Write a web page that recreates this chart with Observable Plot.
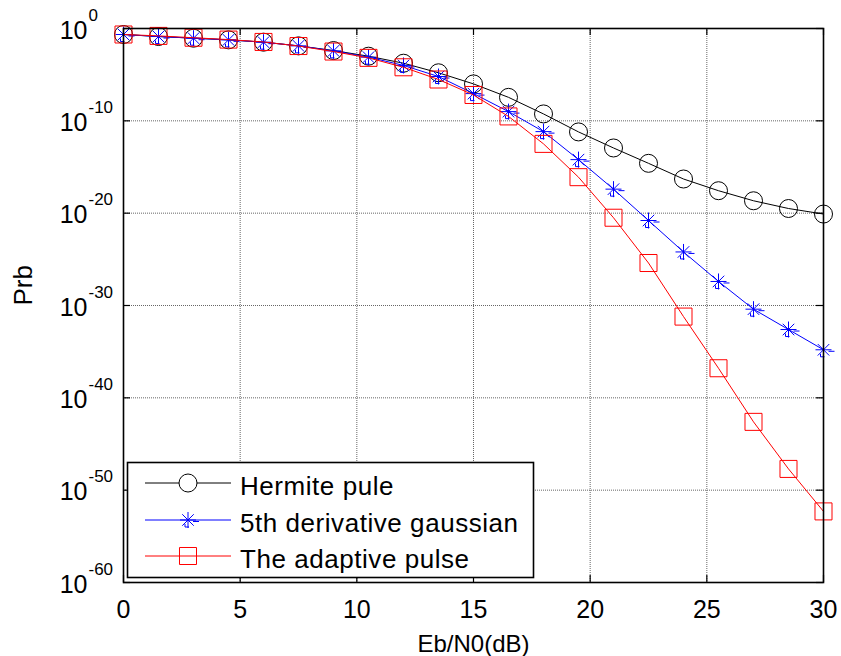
<!DOCTYPE html>
<html><head><meta charset="utf-8">
<script src="https://cdn.jsdelivr.net/npm/d3@7"></script>
<script src="https://cdn.jsdelivr.net/npm/@observablehq/plot@0.6"></script>
<style>html,body{margin:0;padding:0;background:#fff}</style>
</head><body><div id="chart"></div>
<script>
// ---- data ----
const ebn0 = [0, 1.5, 3, 4.5, 6, 7.5, 9, 10.5, 12, 13.5, 15, 16.5, 18, 19.5, 21, 22.5, 24, 25.5, 27, 28.5, 30];
const hermite = [2.24e-1, 1.35e-1, 8.9e-2, 5.9e-2, 3.3e-2, 1.32e-2, 4.1e-3, 1.0e-3, 1.74e-4, 1.6e-5, 1.0e-6, 3.5e-8, 5.6e-10, 6.3e-12, 1.15e-13, 2.5e-15, 5.0e-17, 2.7e-18, 2.2e-19, 3.2e-20, 8.0e-21];
const gauss5 = [2.24e-1, 1.35e-1, 8.9e-2, 5.9e-2, 3.3e-2, 1.32e-2, 3.8e-3, 7.9e-4, 1.0e-4, 6.3e-6, 8.9e-8, 1.0e-9, 6.8e-12, 6.3e-15, 4.0e-18, 1.6e-21, 6.3e-25, 4.0e-28, 4.0e-31, 2.5e-33, 1.6e-35];
const adaptive = [2.24e-1, 1.58e-1, 1.0e-1, 6.3e-2, 3.5e-2, 1.26e-2, 3.2e-3, 6.6e-4, 6.3e-5, 3.0e-6, 6.3e-8, 3.0e-10, 3.2e-13, 7.9e-17, 3.2e-21, 4.0e-26, 6.3e-32, 1.6e-37, 2.5e-43, 2.0e-48, 5.0e-53];
const seriesNames = ["Hermite pule", "5th derivative gaussian", "The adaptive pulse"];
const seriesColors = ["#000000", "#0000ff", "#ff0000"];
const xTicks = [0, 5, 10, 15, 20, 25, 30];
const yTicks = [1e0, 1e-10, 1e-20, 1e-30, 1e-40, 1e-50, 1e-60];
const yTickExp = ["0", "-10", "-20", "-30", "-40", "-50", "-60"];
const xLabel = "Eb/N0(dB)";
const yLabel = "Prb";

// ---- build tables ----
const toRows = (vals) => ebn0.map((x, i) => ({x, y: vals[i]}));
const hRows = toRows(hermite), gRows = toRows(gauss5), aRows = toRows(adaptive);

// MATLAB-like '*' marker (plus + cross) with export artefact dashes
const matStar = {
  draw(ctx, size) {
    const r = 8, d = r * 0.72;
    ctx.moveTo(-r, 0); ctx.lineTo(r, 0);
    ctx.moveTo(0, -r); ctx.lineTo(0, r);
    ctx.moveTo(-d, -d); ctx.lineTo(d, d);
    ctx.moveTo(-d, d); ctx.lineTo(d, -d);
    ctx.moveTo(5, 1.5); ctx.lineTo(11, 1.5);
    ctx.moveTo(-3, 7); ctx.lineTo(1, 7);
    ctx.moveTo(-3, 4); ctx.lineTo(-3, 7);
  }
};
const symbols = ["circle", matStar, "square"];
const radii = [9, 8, 9.6];

const W = 841, H = 656, mL = 123, mR = 18, mT = 28, mB = 74;
const pw = W - mL - mR, ph = H - mT - mB;
const font = "'Liberation Sans', Arial, sans-serif";

const seriesMarks = [hRows, gRows, aRows].flatMap((rows, k) => [
  Plot.line(rows, {x: "x", y: "y", stroke: seriesColors[k], strokeWidth: 1}),
  Plot.dot(rows, {x: "x", y: "y", symbol: () => symbols[k], r: radii[k], stroke: seriesColors[k], fill: "none", strokeWidth: 1})
]);

const chart = Plot.plot({
  width: W, height: H,
  marginLeft: mL, marginRight: mR, marginTop: mT, marginBottom: mB,
  style: {fontFamily: font, background: "white", overflow: "visible"},
  x: {domain: [0, 30], axis: null},
  y: {type: "log", domain: [1e-60, 1], axis: null},
  marks: [
    Plot.gridX(xTicks.slice(1, -1), {stroke: "#666", strokeOpacity: 1, strokeWidth: 1, strokeDasharray: "1,1"}),
    Plot.gridY(yTicks.slice(1, -1), {stroke: "#666", strokeOpacity: 1, strokeWidth: 1, strokeDasharray: "1,1"}),
    ...seriesMarks,
    Plot.frame({stroke: "black", strokeWidth: 1.6}),
    // inward ticks on all four sides
    Plot.ruleX(xTicks, {x: d => d, insetTop: ph - 7, stroke: "black", strokeWidth: 1.2}),
    Plot.ruleX(xTicks, {x: d => d, insetBottom: ph - 7, stroke: "black", strokeWidth: 1.2}),
    Plot.ruleY(yTicks, {y: d => d, insetRight: pw - 7, stroke: "black", strokeWidth: 1.2}),
    Plot.ruleY(yTicks, {y: d => d, insetLeft: pw - 7, stroke: "black", strokeWidth: 1.2}),
    // tick labels
    Plot.text(xTicks, {x: d => d, frameAnchor: "bottom", dy: 35, lineAnchor: "bottom", text: d => String(d), fontSize: 25, fill: "black"}),
    Plot.text(yTicks, {y: d => d, frameAnchor: "left", dx: -36, dy: 10, textAnchor: "end", lineAnchor: "bottom", text: () => "10", fontSize: 25, fill: "black"}),
    Plot.text(yTicks, {y: d => d, frameAnchor: "left", dx: -35, dy: -8, textAnchor: "start", lineAnchor: "bottom", text: (d, i) => yTickExp[i], fontSize: 17, fill: "black"}),
    // axis labels
    Plot.text([xLabel], {frameAnchor: "bottom", dy: 69, lineAnchor: "bottom", text: d => d, fontSize: 24, fill: "black"}),
    Plot.text([yLabel], {frameAnchor: "left", dx: -100, rotate: -90, text: d => d, fontSize: 26, fill: "black"})
  ]
});

// ---- legend (drawn in pixels, inside the axes box) ----
const svg = d3.select(chart);
const lg = svg.append("g").attr("font-family", font).attr("text-anchor", "start");
lg.append("rect").attr("x", 127.5).attr("y", 462.5).attr("width", 406).attr("height", 115)
  .attr("fill", "white").attr("stroke", "black").attr("stroke-width", 1.6);
const rowY = [483, 520, 556];
seriesNames.forEach((name, k) => {
  const y = rowY[k];
  lg.append("line").attr("x1", 145).attr("x2", 231).attr("y1", y).attr("y2", y)
    .attr("stroke", seriesColors[k]).attr("stroke-width", 1);
  const sym = d3.symbol(k === 1 ? matStar : (k === 0 ? d3.symbolCircle : d3.symbolSquare), radii[k] * radii[k] * Math.PI);
  lg.append("path").attr("transform", `translate(188,${y})`).attr("d", sym())
    .attr("fill", k === 0 ? "white" : "none").attr("stroke", seriesColors[k]).attr("stroke-width", 1);
  lg.append("text").attr("x", 240).attr("y", y + 12).attr("font-size", 26).attr("fill", "black")
    .attr("letter-spacing", "0.55px").attr("text-anchor", "start").text(name);
});

document.getElementById("chart").appendChild(chart);
</script>
</body></html>
